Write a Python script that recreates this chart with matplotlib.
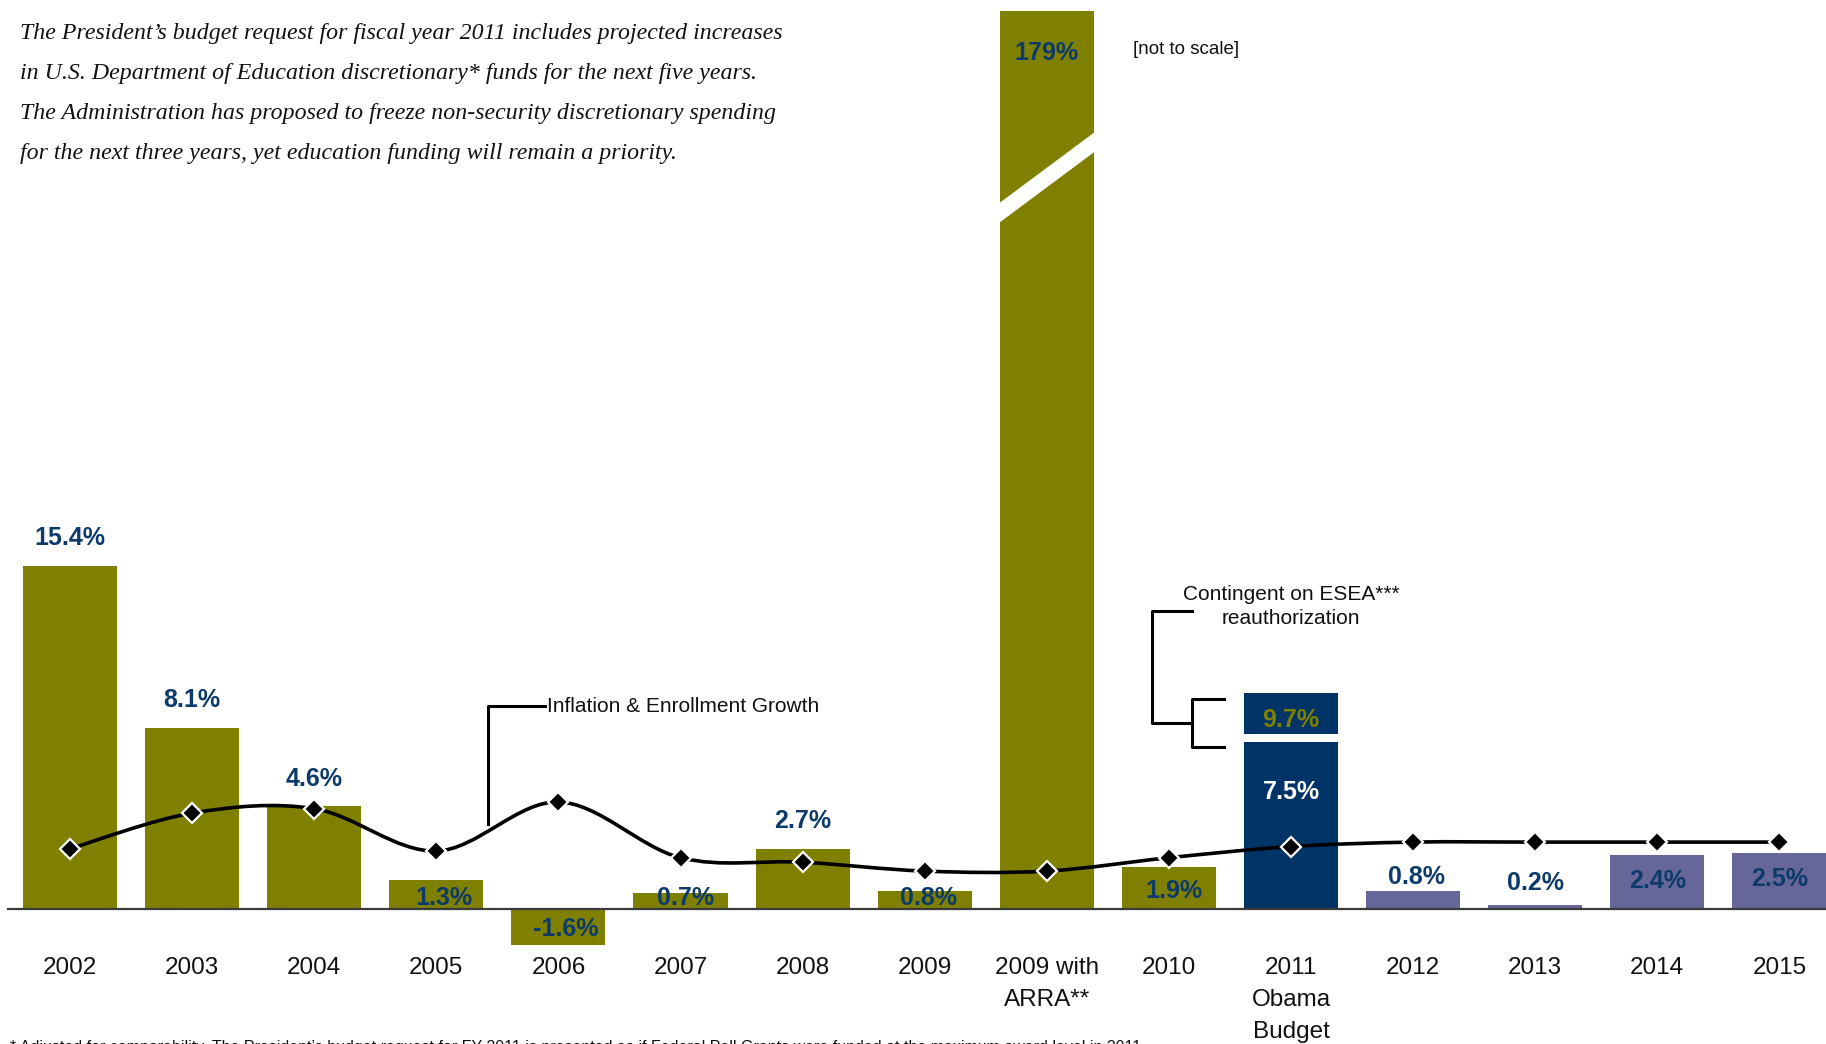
import numpy as np
import matplotlib.pyplot as plt
from matplotlib.path import Path
from matplotlib.patches import PathPatch, Polygon

plt.rcParams['font.family'] = ['Liberation Sans', 'DejaVu Sans']

# fiscal years shown on the axis
years = ['2002', '2003', '2004', '2005', '2006', '2007', '2008', '2009',
         '2009 with\nARRA**', '2010', '2011\nObama\nBudget',
         '2012', '2013', '2014', '2015']
# year-over-year change in discretionary funds (%)
growth = [15.4, 8.1, 4.6, 1.3, -1.6, 0.7, 2.7, 0.8, 179, 1.9, 7.5, 0.8, 0.2, 2.4, 2.5]
growth_labels = ['15.4%', '8.1%', '4.6%', '1.3%', '-1.6%', '0.7%', '2.7%', '0.8%',
                 '179%', '1.9%', '7.5%', '0.8%', '0.2%', '2.4%', '2.5%']
# 2011 request contingent on ESEA reauthorization
esea_total = 9.7
esea_label = '9.7%'
# inflation & enrollment growth (%)
inflation = [2.7, 4.3, 4.5, 2.6, 4.8, 2.3, 2.1, 1.7, 1.7, 2.3, 2.8, 3.0, 3.0, 3.0, 3.0]

OLIVE = '#808000'
NAVY = '#003366'
SLATE = '#666699'
LABEL = '#0b3a6b'

W, H = 1826, 1044
PX_PER_PCT = 22.3
BASE = 909          # baseline, pixels from the top
X0, STEP = 70, 122.1

fig = plt.figure(figsize=(W / 100, H / 100), dpi=100)
ax = fig.add_axes([0, 0, 1, 1])
ax.set_xlim(-X0 / STEP, (W - X0) / STEP)
ax.set_ylim(-(H - BASE) / PX_PER_PCT, BASE / PX_PER_PCT)
ax.axis('off')


def px(xp, yp):
    # pixel position (from top-left) -> data coordinates
    return (xp - X0) / STEP, (BASE - yp) / PX_PER_PCT


x = np.arange(len(years))
colors = [OLIVE] * 10 + [NAVY] + [SLATE] * 4
cap = (BASE - 11) / PX_PER_PCT          # 179% bar is cut off (not to scale)
heights = [min(v, cap) for v in growth]
bw = 0.77
ax.bar(x, heights, width=bw, color=colors, zorder=2)

# upper part of the 2011 bar, separated by a thin white gap
i11 = 10
gap = 0.36
ax.bar(x[i11], esea_total - growth[i11] - gap, bottom=growth[i11] + gap,
       width=bw, color=NAVY, zorder=2)

# break mark on the ARRA bar
i_arra = 8
xl, xr = x[i_arra] - bw / 2 - 0.02, x[i_arra] + bw / 2 + 0.02
ax.add_patch(Polygon([(xl, 31.55), (xr, 34.85), (xr, 34.05), (xl, 30.75)],
                     closed=True, color='white', zorder=3))

# baseline
ax.axhline(0, xmin=8 / W, xmax=1, color='#3a3a3a', lw=1.6, zorder=4)

# smoothed inflation line (Bezier through the points)
pts = np.column_stack([x, inflation]).astype(float)
verts = [pts[0]]
codes = [Path.MOVETO]
n = len(pts)
for i in range(n - 1):
    p0 = pts[max(i - 1, 0)]
    p1, p2 = pts[i], pts[i + 1]
    p3 = pts[min(i + 2, n - 1)]
    c1 = p1 + (p2 - p0) / 6
    c2 = p2 - (p3 - p1) / 6
    verts += [c1, c2, p2]
    codes += [Path.CURVE4] * 3
ax.add_patch(PathPatch(Path(verts, codes), fill=False, ec='black', lw=2.6,
                       zorder=5, capstyle='round'))
ax.plot(x, inflation, ls='none', marker='D', ms=10, mfc='black', mec='white',
        mew=1.6, zorder=6)

# value labels: (dx, dy) offsets in pixels from the bar end
offsets = [(0, 28), (0, 28), (0, 27), (8, -18), (7, 16), (5, -5), (0, 28), (4, -7),
           (0, -42), (5, -24), (0, -50), (3, 14), (0, 22), (0, -26), (0, -26)]
for i, (lab, (dx, dy)) in enumerate(zip(growth_labels, offsets)):
    col = 'white' if i == i11 else LABEL
    ax.annotate(lab, (x[i], heights[i]), xytext=(dx, dy), textcoords='offset pixels',
                ha='center', va='center', fontsize=18, fontweight='bold', color=col,
                zorder=7)
ax.annotate(esea_label, (x[i11], esea_total), xytext=(0, -27), textcoords='offset pixels',
            ha='center', va='center', fontsize=18, fontweight='bold', color=OLIVE,
            zorder=7)

# category labels, one text per line
for i, yr in enumerate(years):
    for k, part in enumerate(yr.split('\n')):
        ax.text(*px(X0 + STEP * i, 968 + 32 * k), part, ha='center', va='center',
                fontsize=17.5, color='#111111')

# leader for the inflation line
ax.plot(*zip(px(488, 824), px(488, 706), px(545, 706)), color='black', lw=2.2,
        zorder=6)
ax.text(*px(547, 706), 'Inflation & Enrollment Growth', ha='left', va='center',
        fontsize=15, color='#111111')

# bracket for ESEA-contingent amount
ax.plot(*zip(px(1192, 611), px(1152, 611), px(1152, 723), px(1192, 723)),
        color='black', lw=2.2, zorder=6)
ax.plot(*zip(px(1224, 699), px(1192, 699), px(1192, 747), px(1224, 747)),
        color='black', lw=2.2, zorder=6)
ax.text(*px(1291, 595), 'Contingent on ESEA***', ha='center', va='center',
        fontsize=15, color='#111111')
ax.text(*px(1291, 619), 'reauthorization', ha='center', va='center',
        fontsize=15, color='#111111')

fig.text(1133 / W, 1 - 50 / H, '[not to scale]', ha='left', va='center',
         fontsize=13.5, color='#111111')

intro = ['The President\u2019s budget request for fiscal year 2011 includes projected increases',
         'in U.S. Department of Education discretionary* funds for the next five years.',
         'The Administration has proposed to freeze non-security discretionary spending',
         'for the next three years, yet education funding will remain a priority.']
for k, line in enumerate(intro):
    fig.text(20 / W, 1 - (33 + 40 * k) / H, line, ha='left', va='center',
             fontsize=17.2, style='italic', family=['Liberation Serif', 'DejaVu Serif'],
             color='#111111')

fig.text(10 / W, 1 - 1040 / H,
         '* Adjusted for comparability. The President\u2019s budget request for FY 2011 is '
         'presented as if Federal Pell Grants were funded at the maximum award level in 2011.',
         ha='left', va='top', fontsize=11.5, color='#111111')

fig.savefig('out.png', dpi=100)
